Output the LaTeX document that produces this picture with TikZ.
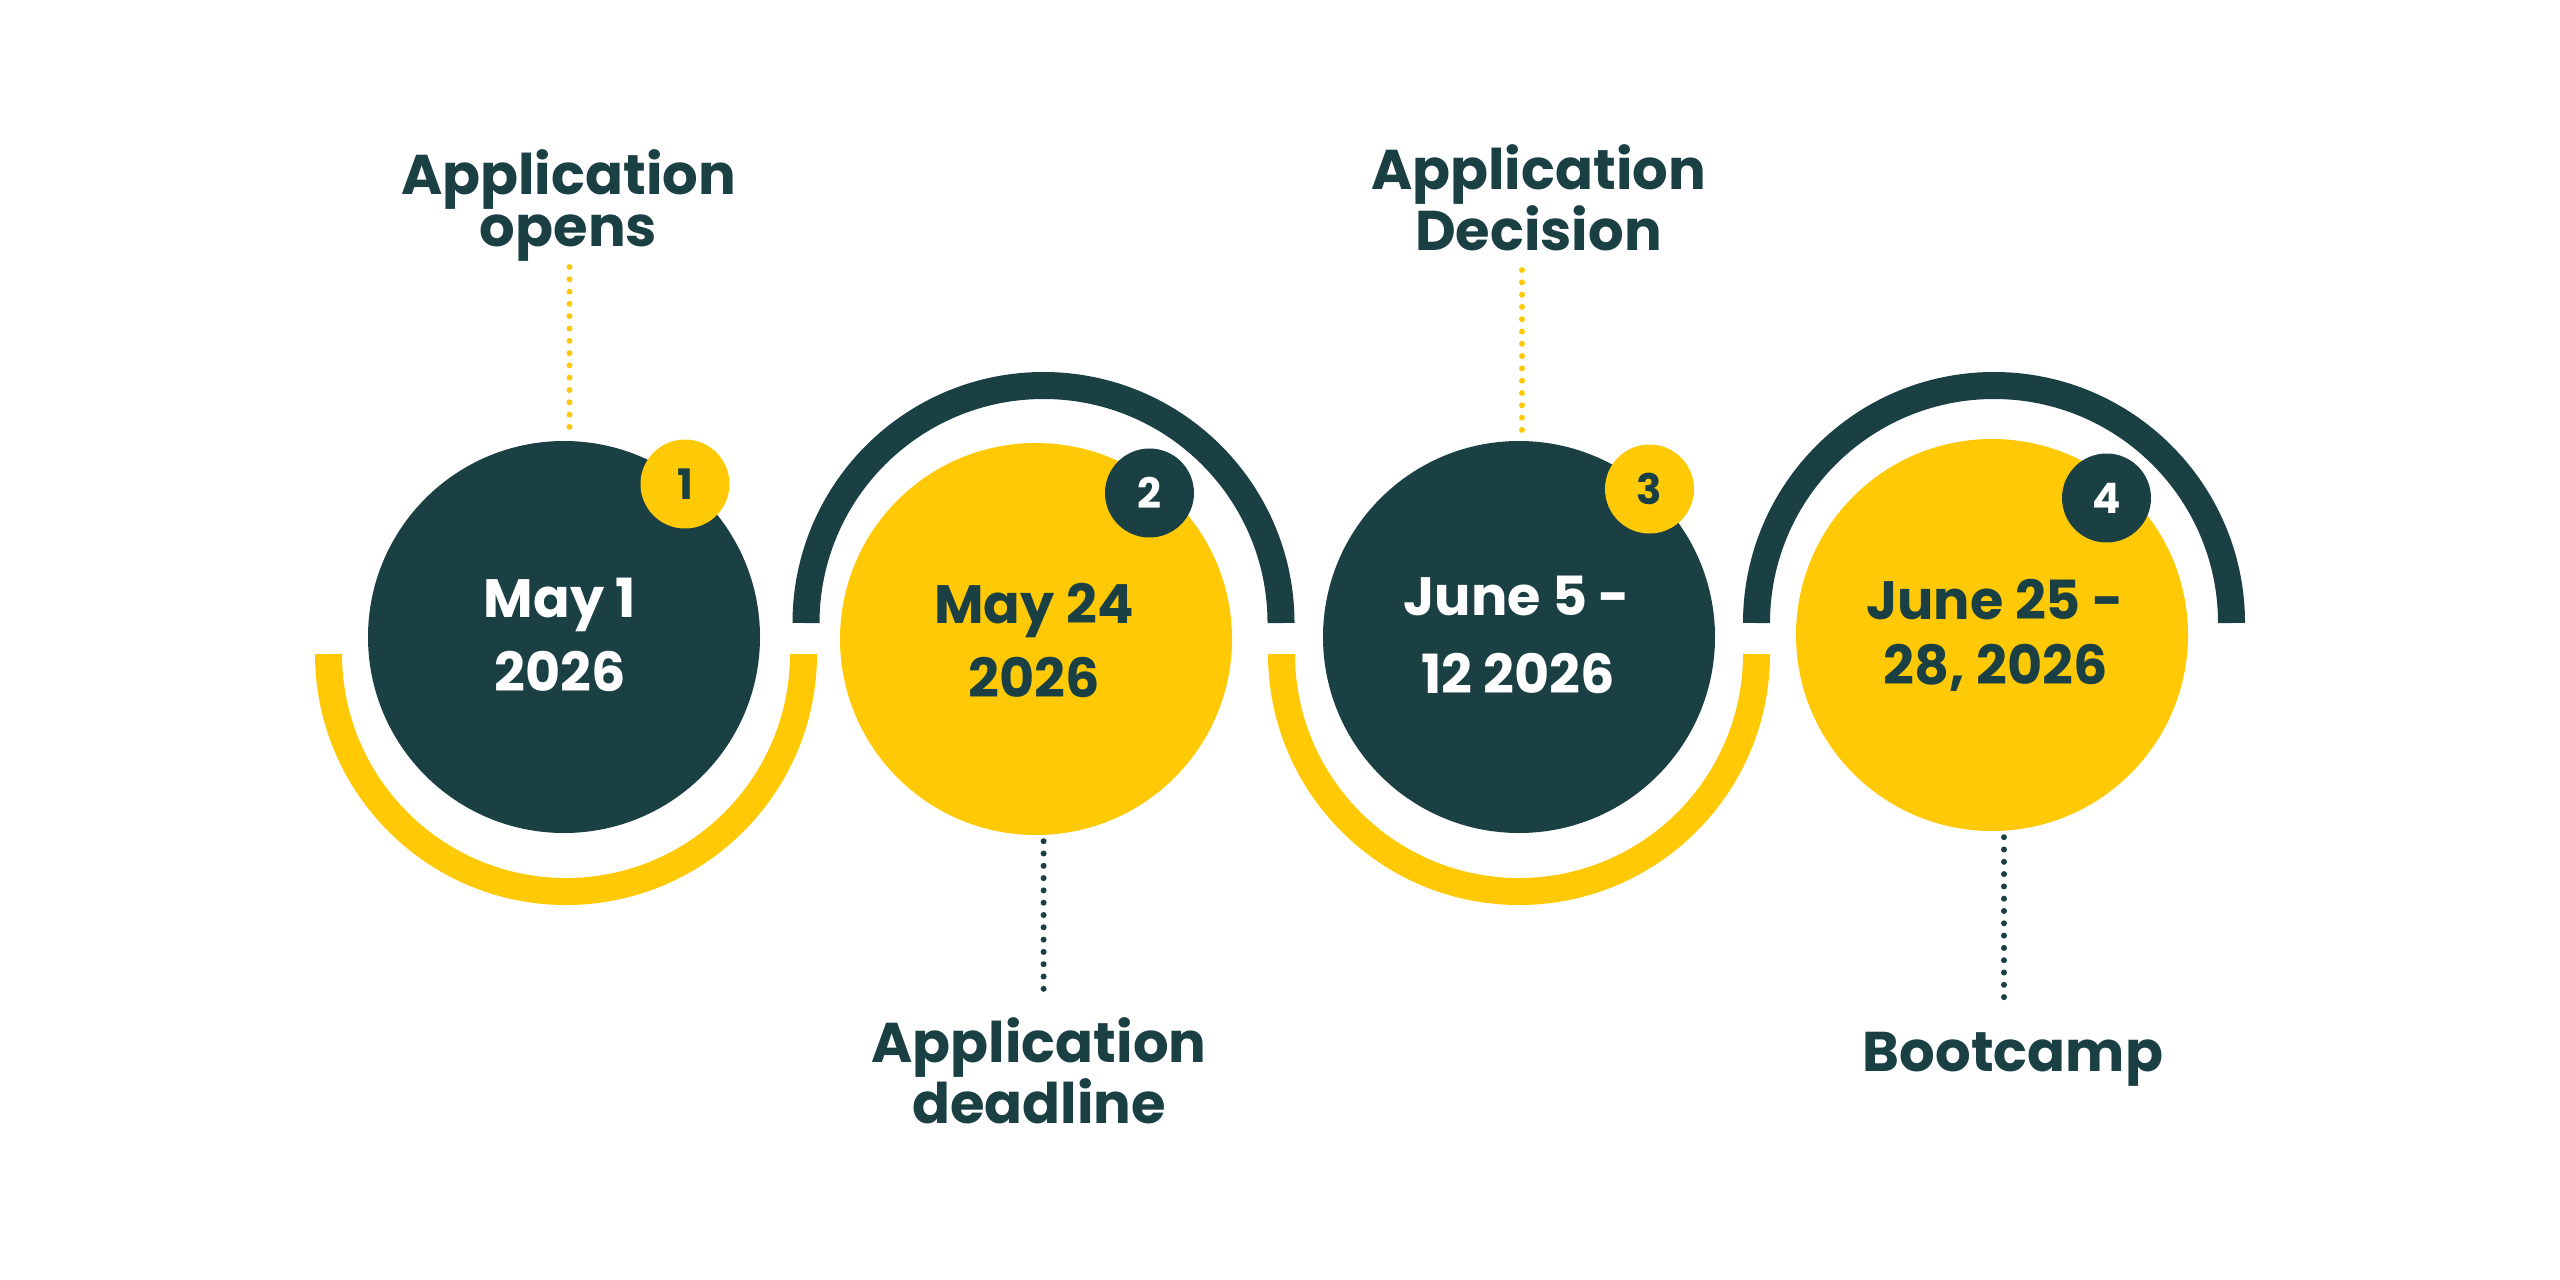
\documentclass[tikz,border=0pt]{standalone}
\usepackage{fontspec}
\setmainfont{Poppins}
\usetikzlibrary{calc}
\definecolor{dk}{HTML}{1B4044}
\definecolor{yl}{HTML}{FFCA05}
\begin{document}
\begin{tikzpicture}[x=1pt,y=1pt,
  bigc/.style={circle, minimum size=392pt, inner sep=0pt},
  badge/.style={circle, minimum size=89pt, inner sep=0pt, font=\fontsize{42}{42}\selectfont\bfseries},
  datetxt/.style={anchor=base, inner sep=0pt, font=\fontsize{54}{54}\selectfont\bfseries},
  lab/.style={anchor=base, inner sep=0pt, text=dk, align=center, font=\fontsize{56}{52}\selectfont\bfseries},
  band/.style={line width=27pt},
  dotline/.style={line width=6pt, line cap=round, dash pattern=on 0pt off 12.3pt},
]
\fill[white] (0,0) rectangle (2560,-1280);
\useasboundingbox (0,0) rectangle (2560,-1280);

% connecting bands
\draw[band, yl] (328.5,-654) arc[start angle=180, end angle=360, radius=237.5];
\draw[band, dk] (806,-623) arc[start angle=180, end angle=0, radius=237.5];
\draw[band, yl] (1281.5,-654) arc[start angle=180, end angle=360, radius=237.5];
\draw[band, dk] (1756.5,-623) arc[start angle=180, end angle=0, radius=237.5];

% main circles
\node[bigc, fill=dk] (c1) at (564,-637) {};
\node[bigc, fill=yl] (c2) at (1036,-639) {};
\node[bigc, fill=dk] (c3) at (1519,-637) {};
\node[bigc, fill=yl] (c4) at (1992,-635) {};

% badges
\node[badge, fill=yl, text=dk] (b1) at (685,-484) {1};
\node[badge, fill=dk, text=white] (b2) at (1149.5,-493) {2};
\node[badge, fill=yl, text=dk] (b3) at (1649.5,-489) {3};
\node[badge, fill=dk, text=white] (b4) at (2106.5,-498) {4};

% dates
\node[datetxt, text=white] (d1a) at (560,-617) {May 1};
\node[datetxt, text=white] (d1b) at (560,-691) {2026};
\node[datetxt, text=dk] (d2a) at (1034,-623) {May 24};
\node[datetxt, text=dk] (d2b) at (1034,-697.5) {2026};
\node[datetxt, text=white] (d3a) at (1517,-615) {June 5 -};
\node[datetxt, text=white] (d3b) at (1518,-693) {12 2026};
\node[datetxt, text=dk] (d4a) at (1995,-619.6) {June 25 -};
\node[datetxt, text=dk] (d4b) at (1996,-684) {28, 2026};

% labels (base anchor = baseline of last line)
\node[lab] (l1) at (568.5,-246) {Application\\opens};
\node[lab] (l2) at (1039,-1123) {Application\\deadline};
\node[lab, font=\fontsize{56}{56}\selectfont\bfseries] (l3) at (1538.5,-250) {Application\\Decision};
\node[lab] (l4) at (2013,-1071.7) {Bootcamp};

% dotted leaders
\coordinate (t1) at (569.5,-267);
\coordinate (t2) at (1043.6,-1001);
\coordinate (t3) at (1522,-270);
\coordinate (t4) at (2004,-1001);
\draw[dotline, yl] (t1) -- ($(t1 |- c1.north)+(0,3)$);
\draw[dotline, dk] ($(c2.south -| t2)+(0,-6)$) -- (t2);
\draw[dotline, yl] (t3) -- ($(t3 |- c3.north)+(0,3)$);
\draw[dotline, dk] ($(c4.south -| t4)+(0,-6)$) -- (t4);
\end{tikzpicture}
\end{document}
